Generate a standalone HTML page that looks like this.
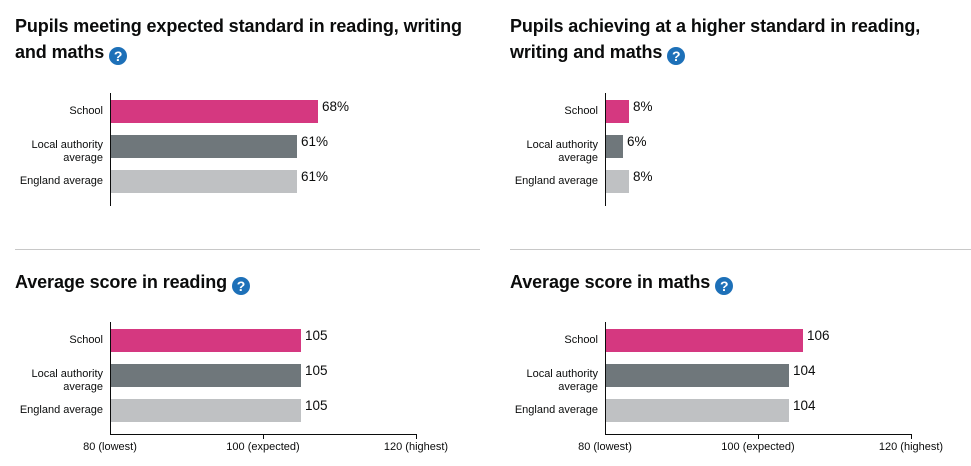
<!DOCTYPE html>
<html><head><meta charset="utf-8"><style>
body{margin:0;width:971px;height:466px;background:#fff;position:relative;font-family:"Liberation Sans",Arial,sans-serif;color:#0b0c0c;overflow:hidden}
.a{position:absolute}
.t{font-weight:bold;font-size:18px;line-height:26px;letter-spacing:-0.1px;white-space:nowrap}
.q{display:inline-block;width:18px;height:18px;border-radius:50%;background:#1d70b8;color:#fff;font-size:14px;line-height:18px;text-align:center;vertical-align:-3px;margin-left:5px;letter-spacing:0}
.l{font-size:11px;text-align:right;width:95px;line-height:13px}
.v{font-size:13.5px}
.x{font-size:11px;width:120px;text-align:center}
.ax{background:#0b0c0c}
.hr{height:1px;background:#c8c8c8}
</style></head><body>
<div class="a t" style="left:15px;top:13px">Pupils meeting expected standard in reading, writing<br>and maths<span class="q">?</span></div>
<div class="a t" style="left:510px;top:13px">Pupils achieving at a higher standard in reading,<br>writing and maths<span class="q">?</span></div>
<div class="a hr" style="left:15px;top:249px;width:465px"></div>
<div class="a hr" style="left:510px;top:249px;width:461px"></div>
<div class="a t" style="left:15px;top:269px">Average score in reading<span class="q">?</span></div>
<div class="a t" style="left:510px;top:269px">Average score in maths<span class="q">?</span></div>

<div class="a ax" style="left:110px;top:93px;width:1px;height:113px"></div>
<div class="a" style="left:111px;top:100px;width:207px;height:23px;background:#d53880"></div>
<div class="a" style="left:111px;top:135px;width:186px;height:23px;background:#6f777b"></div>
<div class="a" style="left:111px;top:170px;width:186px;height:23px;background:#bfc1c3"></div>
<div class="a l" style="left:8px;top:105px">School</div>
<div class="a l" style="left:8px;top:139px">Local authority<br>average</div>
<div class="a l" style="left:8px;top:175px">England average</div>
<div class="a v" style="left:322px;top:99px">68%</div>
<div class="a v" style="left:301px;top:134px">61%</div>
<div class="a v" style="left:301px;top:169px">61%</div>

<div class="a ax" style="left:605px;top:93px;width:1px;height:113px"></div>
<div class="a" style="left:606px;top:100px;width:23px;height:23px;background:#d53880"></div>
<div class="a" style="left:606px;top:135px;width:17px;height:23px;background:#6f777b"></div>
<div class="a" style="left:606px;top:170px;width:23px;height:23px;background:#bfc1c3"></div>
<div class="a l" style="left:503px;top:105px">School</div>
<div class="a l" style="left:503px;top:139px">Local authority<br>average</div>
<div class="a l" style="left:503px;top:175px">England average</div>
<div class="a v" style="left:633px;top:99px">8%</div>
<div class="a v" style="left:627px;top:134px">6%</div>
<div class="a v" style="left:633px;top:169px">8%</div>

<div class="a ax" style="left:110px;top:322px;width:1px;height:113px"></div>
<div class="a ax" style="left:110px;top:434px;width:307px;height:1px"></div>
<div class="a ax" style="left:263px;top:434px;width:1px;height:5px"></div>
<div class="a ax" style="left:416px;top:434px;width:1px;height:5px"></div>
<div class="a" style="left:111px;top:329px;width:190px;height:23px;background:#d53880"></div>
<div class="a" style="left:111px;top:364px;width:190px;height:23px;background:#6f777b"></div>
<div class="a" style="left:111px;top:399px;width:190px;height:23px;background:#bfc1c3"></div>
<div class="a l" style="left:8px;top:334px">School</div>
<div class="a l" style="left:8px;top:368px">Local authority<br>average</div>
<div class="a l" style="left:8px;top:404px">England average</div>
<div class="a v" style="left:305px;top:328px">105</div>
<div class="a v" style="left:305px;top:363px">105</div>
<div class="a v" style="left:305px;top:398px">105</div>
<div class="a x" style="left:50px;top:441px">80 (lowest)</div>
<div class="a x" style="left:203px;top:441px">100 (expected)</div>
<div class="a x" style="left:356px;top:441px">120 (highest)</div>

<div class="a ax" style="left:605px;top:322px;width:1px;height:113px"></div>
<div class="a ax" style="left:605px;top:434px;width:307px;height:1px"></div>
<div class="a ax" style="left:758px;top:434px;width:1px;height:5px"></div>
<div class="a ax" style="left:911px;top:434px;width:1px;height:5px"></div>
<div class="a" style="left:606px;top:329px;width:197px;height:23px;background:#d53880"></div>
<div class="a" style="left:606px;top:364px;width:183px;height:23px;background:#6f777b"></div>
<div class="a" style="left:606px;top:399px;width:183px;height:23px;background:#bfc1c3"></div>
<div class="a l" style="left:503px;top:334px">School</div>
<div class="a l" style="left:503px;top:368px">Local authority<br>average</div>
<div class="a l" style="left:503px;top:404px">England average</div>
<div class="a v" style="left:807px;top:328px">106</div>
<div class="a v" style="left:793px;top:363px">104</div>
<div class="a v" style="left:793px;top:398px">104</div>
<div class="a x" style="left:545px;top:441px">80 (lowest)</div>
<div class="a x" style="left:698px;top:441px">100 (expected)</div>
<div class="a x" style="left:851px;top:441px">120 (highest)</div>
</body></html>
